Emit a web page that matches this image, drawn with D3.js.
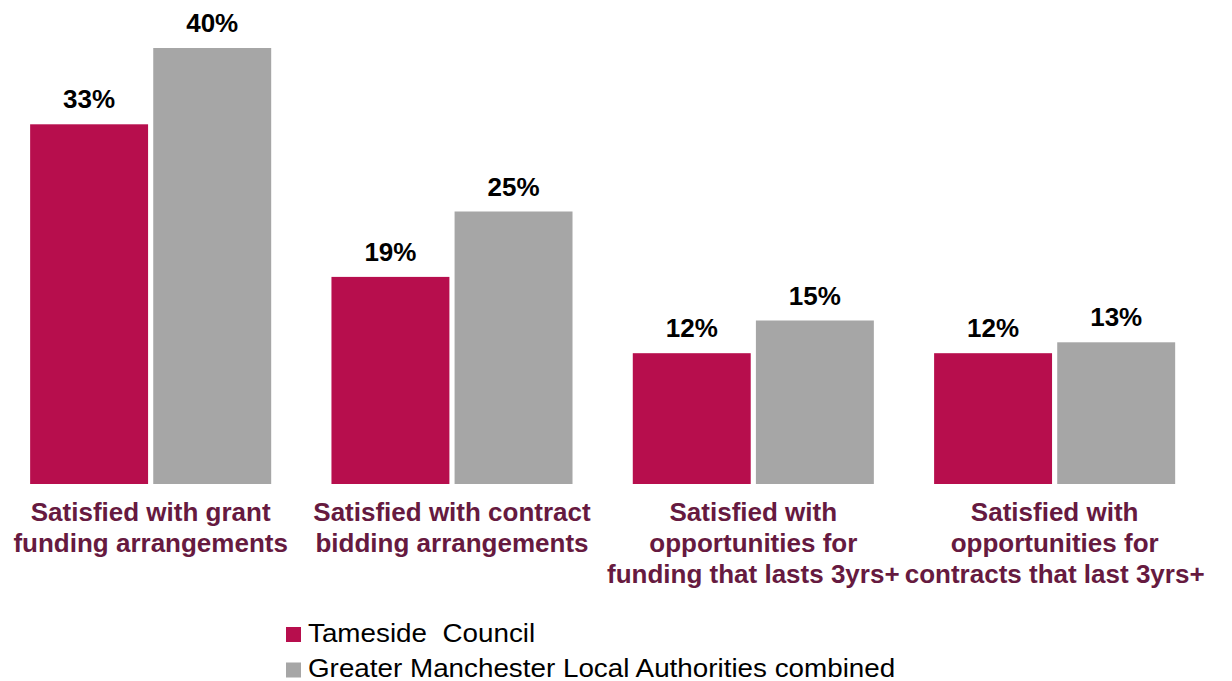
<!DOCTYPE html>
<html><head><meta charset="utf-8">
<script src="https://cdn.jsdelivr.net/npm/d3@7"></script>
<style>html,body{margin:0;padding:0;background:#fff;}svg{display:block;}</style>
</head><body>
<svg id="chart" width="1232" height="681"></svg>
<script>
const categories = [
  ["Satisfied with grant", "funding arrangements"],
  ["Satisfied with contract", "bidding arrangements"],
  ["Satisfied with", "opportunities for", "funding that lasts 3yrs+"],
  ["Satisfied with", "opportunities for", "contracts that last 3yrs+"]
];
const seriesNames = ["Tameside  Council", "Greater Manchester Local Authorities combined"];
const tamesideValues = [33, 19, 12, 12];
const gmValues = [40, 25, 15, 13];
const colors = ["#b70e4d", "#a6a6a6"];

const svg = d3.select("#chart");
const font = "'Liberation Sans', Arial, sans-serif";
const catKeys = categories.map((c, i) => i);
const data = catKeys.map(i => ({cat: i, values: [tamesideValues[i], gmValues[i]]}));

const x0 = d3.scaleBand().domain(catKeys).range([0, 1205.3]).paddingInner(0.2).paddingOuter(0.1);
const x1 = d3.scaleBand().domain([0, 1]).range([0, x0.bandwidth()]).paddingInner(0.042);
const y = d3.scaleLinear().domain([0, 40]).range([484, 48]);

const g = svg.append("g");
const groups = g.selectAll("g.grp").data(data).join("g")
  .attr("transform", d => `translate(${x0(d.cat)},0)`);

groups.selectAll("rect").data(d => d.values.map((v, s) => ({v, s}))).join("rect")
  .attr("x", d => x1(d.s))
  .attr("width", x1.bandwidth())
  .attr("y", d => y(d.v))
  .attr("height", d => y(0) - y(d.v))
  .attr("fill", d => colors[d.s]);

groups.selectAll("text.val").data(d => d.values.map((v, s) => ({v, s}))).join("text")
  .attr("class", "val")
  .attr("x", d => x1(d.s) + x1.bandwidth() / 2)
  .attr("y", d => y(d.v) - 16)
  .attr("text-anchor", "middle")
  .attr("font-family", font)
  .attr("font-weight", "bold")
  .attr("font-size", 26)
  .attr("fill", "#000")
  .text(d => d.v + "%");

// category labels
const xAxis = d3.axisBottom(x0).tickSize(0).tickFormat("");
const axG = svg.append("g").attr("transform", `translate(0,${y(0)})`).call(xAxis);
axG.select(".domain").remove();
axG.selectAll(".tick").each(function(d) {
  const t = d3.select(this).append("text")
    .attr("text-anchor", "middle")
    .attr("font-family", font)
    .attr("font-weight", "bold")
    .attr("font-size", 26)
    .attr("fill", "#661a40");
  categories[d].forEach((line, i) => {
    t.append("tspan").attr("x", 0).attr("y", 37 + i * 31).text(line);
  });
});

// legend
const leg = svg.append("g").attr("transform", "translate(286,0)");
seriesNames.forEach((name, i) => {
  const cy = 634.5 + i * 35.5;
  leg.append("rect").attr("x", 0).attr("y", cy - 7.5).attr("width", 15).attr("height", 15).attr("fill", colors[i]);
  leg.append("text")
    .attr("transform", `translate(22,${cy + 7}) scale(1.07,1)`)
    .attr("font-family", font).attr("font-size", 26).attr("fill", "#000")
    .style("white-space", "pre")
    .text(name);
});
</script>
</body></html>
